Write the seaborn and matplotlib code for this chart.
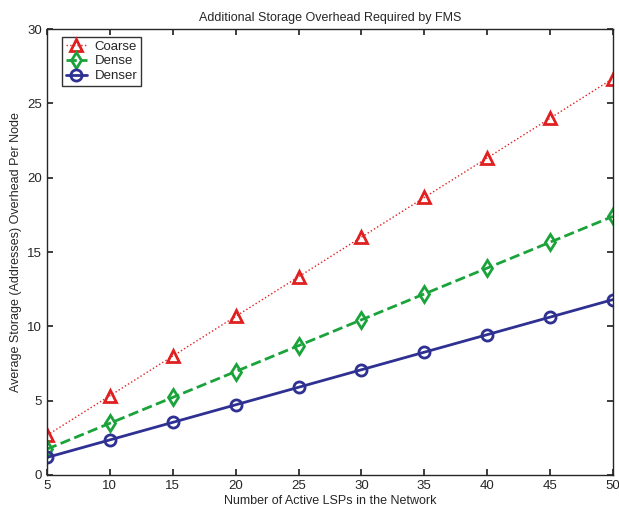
import matplotlib
matplotlib.use("Agg")
import matplotlib.pyplot as plt
import pandas as pd
import seaborn as sns

lsps = [5, 10, 15, 20, 25, 30, 35, 40, 45, 50]
coarse = [2.67, 5.33, 8.0, 10.67, 13.33, 16.0, 18.67, 21.33, 24.0, 26.67]
dense = [1.74, 3.48, 5.22, 6.96, 8.7, 10.44, 12.18, 13.92, 15.66, 17.4]
denser = [1.18, 2.36, 3.54, 4.72, 5.9, 7.08, 8.26, 9.44, 10.62, 11.8]

df = pd.DataFrame({
    "lsps": lsps * 3,
    "overhead": coarse + dense + denser,
    "scheme": ["Coarse"] * 10 + ["Dense"] * 10 + ["Denser"] * 10,
})

sns.set_theme(style="ticks")
plt.rcParams["font.family"] = ["Liberation Sans", "DejaVu Sans"]

styles = {
    "Coarse": dict(color="#e02020", ls=":", marker="^", lw=1.0),
    "Dense": dict(color="#1aa33a", ls="--", marker="d", lw=2.0),
    "Denser": dict(color="#2e3192", ls="-", marker="o", lw=2.0),
}

fig = plt.figure(figsize=(6.19, 5.12), dpi=100)
ax = fig.add_axes([0.0759, 0.0723, 0.9144, 0.871])

for name, st in styles.items():
    sub = df[df["scheme"] == name]
    sns.lineplot(data=sub, x="lsps", y="overhead", ax=ax, label=name,
                 color=st["color"], linestyle=st["ls"], linewidth=st["lw"],
                 marker=st["marker"], markersize=8, markerfacecolor="none",
                 markeredgecolor=st["color"], markeredgewidth=2.0)

ax.set_xlim(5, 50)
ax.set_ylim(0, 30)
ax.set_xticks(lsps)
ax.set_yticks(range(0, 31, 5))
ax.tick_params(direction="in", length=4, labelsize=9.5, top=True, right=True)
for s in ax.spines.values():
    s.set_linewidth(1.0)
ax.set_xlabel("Number of Active LSPs in the Network", fontsize=9, labelpad=2)
ax.set_ylabel("Average Storage (Addresses) Overhead Per Node", fontsize=9)
ax.yaxis.set_label_coords(-0.045, 0.5)
ax.set_title("Additional Storage Overhead Required by FMS", fontsize=9, pad=6)
leg = ax.legend(loc="upper left", bbox_to_anchor=(0.027, 0.982), fontsize=9.5,
                frameon=True, fancybox=False, edgecolor="black",
                handlelength=1.6, handletextpad=0.6, borderpad=0.25,
                labelspacing=0.2, borderaxespad=0)
leg.get_frame().set_linewidth(1.0)

fig.savefig("out.png", dpi=100)
